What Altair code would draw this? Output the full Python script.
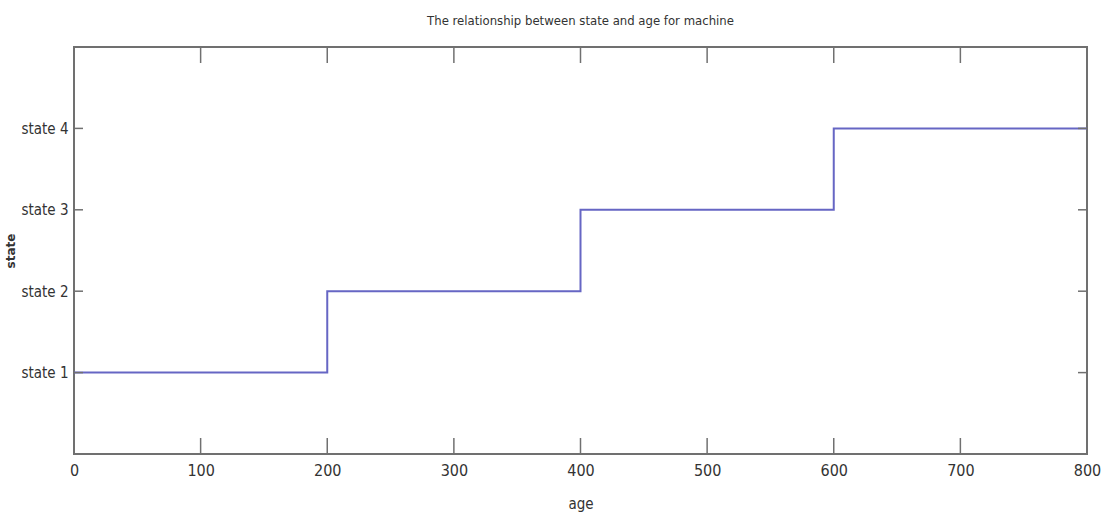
import altair as alt
import pandas as pd

# Data
ages = [0, 200, 400, 600, 800]
states = [1, 2, 3, 4, 4]
x_ticks = [0, 100, 200, 300, 400, 500, 600, 700, 800]
y_ticks = [1, 2, 3, 4]
y_labels = ["state 1", "state 2", "state 3", "state 4"]

W, H = 1013, 407
FONT = "Liberation Sans Narrow, DejaVu Sans Condensed, sans-serif"
LINE = "#6666c4"
FRAME = "#707070"
TXT = "#333333"

df = pd.DataFrame({"age": ages, "state": states})
xt = pd.DataFrame({"t": x_ticks})
yt = pd.DataFrame({"t": y_ticks})

label_expr = "'state ' + datum.value"

xscale = alt.Scale(domain=[0, 800], nice=False, zero=False)
yscale = alt.Scale(domain=[0, 5], nice=False, zero=False)

line = alt.Chart(df).mark_line(
    interpolate="step-after", color=LINE, strokeWidth=2
).encode(
    x=alt.X("age:Q", scale=xscale,
            axis=alt.Axis(title="age", values=x_ticks, ticks=False, domain=False,
                          grid=False, labelFont=FONT, labelFontSize=16,
                          labelColor=TXT, labelPadding=8, labelFlush=False,
                          titleFont=FONT,
                          titleFontSize=15, titleFontWeight="normal",
                          titleColor=TXT, titlePadding=18)),
    y=alt.Y("state:Q", scale=yscale,
            axis=alt.Axis(title="state", values=y_ticks, labelExpr=label_expr,
                          ticks=False, domain=False, grid=False,
                          labelFont=FONT, labelFontSize=15, labelColor=TXT,
                          labelPadding=6, labelFlush=False,
                          titleFont="DejaVu Sans",
                          titleFontSize=12, titleFontWeight="bold",
                          titleColor=TXT, titlePadding=3)),
)

tick_len_x = 16
tick_len_y = 9

bottom_ticks = alt.Chart(xt).mark_rule(color=FRAME, strokeWidth=1.5).encode(
    x=alt.X("t:Q", scale=xscale), y=alt.value(H), y2=alt.value(H - tick_len_x))
top_ticks = alt.Chart(xt).mark_rule(color=FRAME, strokeWidth=1.5).encode(
    x=alt.X("t:Q", scale=xscale), y=alt.value(0), y2=alt.value(tick_len_x))
left_ticks = alt.Chart(yt).mark_rule(color=FRAME, strokeWidth=1.5).encode(
    y=alt.Y("t:Q", scale=yscale), x=alt.value(0), x2=alt.value(tick_len_y))
right_ticks = alt.Chart(yt).mark_rule(color=FRAME, strokeWidth=1.5).encode(
    y=alt.Y("t:Q", scale=yscale), x=alt.value(W), x2=alt.value(W - tick_len_y))

chart = alt.layer(line, bottom_ticks, top_ticks, left_ticks, right_ticks).properties(
    width=W, height=H,
    background="white",
    title=alt.TitleParams("The relationship between state and age for machine",
                          font=FONT, fontSize=13, fontWeight="normal",
                          color=TXT, offset=18, anchor="middle"),
    autosize=alt.AutoSizeParams(type="none"),
    padding={"left": 74, "top": 47, "right": 19, "bottom": 64},
).configure_view(
    stroke=FRAME, strokeWidth=2
)

chart.save("out.html", embed_options={"renderer": "svg", "actions": False})
